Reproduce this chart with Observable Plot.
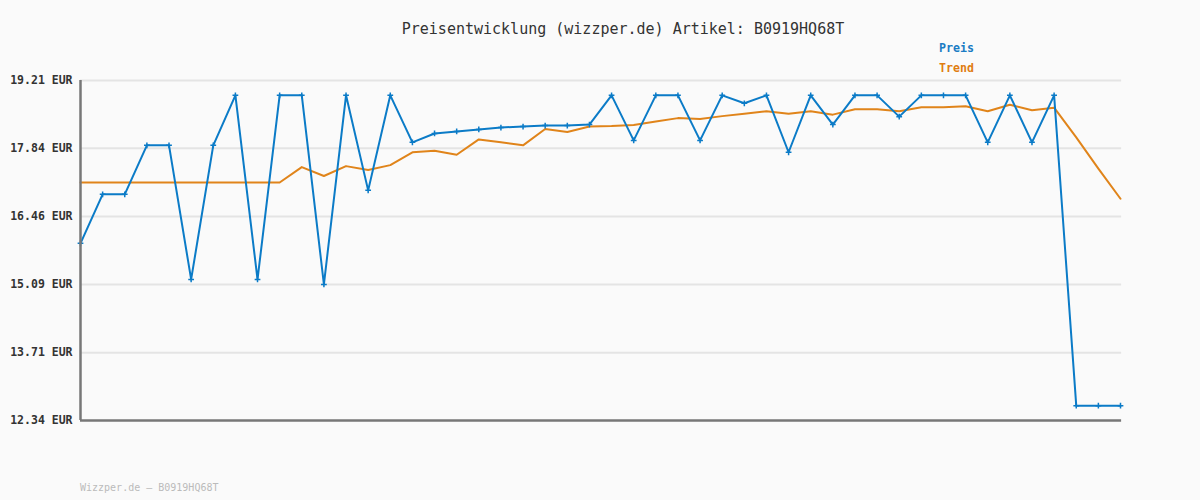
<!DOCTYPE html>
<html>
<head>
<meta charset="utf-8">
<script src="https://cdn.jsdelivr.net/npm/d3@7"></script>
<script src="https://cdn.jsdelivr.net/npm/@observablehq/plot@0.6"></script>
<style>
  html, body { margin: 0; padding: 0; background: #fafafa; }
  #wrap { position: relative; width: 1200px; height: 500px; }
  .t { position: absolute; font-family: "DejaVu Sans Mono", monospace; white-space: nowrap; }
  #title { left: 0; width: 1246px; text-align: center; top: 20px; font-size: 15px; color: #333; }
  #lp { left: 939px; top: 41px; font-size: 11.6px; font-weight: bold; color: #1a7cc4; }
  #lt { left: 939px; top: 61px; font-size: 11.6px; font-weight: bold; color: #e07d10; }
  #foot { left: 80px; top: 482px; font-size: 10px; color: #bbbbbb; }
  svg { position: absolute; left: 0; top: 0; }
</style>
</head>
<body>
<div id="wrap">
  <div id="chart"></div>
  <div class="t" id="title">Preisentwicklung (wizzper.de) Artikel: B0919HQ68T</div>
  <div class="t" id="lp">Preis</div>
  <div class="t" id="lt">Trend</div>
  <div class="t" id="foot">Wizzper.de – B0919HQ68T</div>
</div>
<script>
const preis = [15.92, 16.91, 16.91, 17.90, 17.90, 15.19, 17.90, 18.91, 15.19, 18.91,
  18.91, 15.09, 18.91, 16.99, 18.91, 17.96, 18.14, 18.18, 18.22, 18.26,
  18.28, 18.30, 18.30, 18.32, 18.91, 18.00, 18.91, 18.91, 18.00, 18.91,
  18.75, 18.91, 17.76, 18.91, 18.32, 18.91, 18.91, 18.48, 18.91, 18.91,
  18.91, 17.96, 18.91, 17.96, 18.91, 12.64, 12.64, 12.64];
const trend = [17.15, 17.15, 17.15, 17.15, 17.15, 17.15, 17.15, 17.15, 17.15, 17.15,
  17.46, 17.28, 17.48, 17.40, 17.50, 17.76, 17.79, 17.71, 18.02, 17.96,
  17.90, 18.23, 18.17, 18.28, 18.29, 18.31, 18.38, 18.45, 18.43, 18.49,
  18.54, 18.59, 18.54, 18.59, 18.52, 18.63, 18.63, 18.59, 18.67, 18.67,
  18.69, 18.59, 18.72, 18.61, 18.66, 18.06, 17.43, 16.82];
const yTicks = [12.34, 13.71, 15.09, 16.46, 17.84, 19.21];

const pd = preis.map((v, i) => ({i, v}));
const td = trend.map((v, i) => ({i, v}));

const blue = "#0b7bc7";
const orange = "#e0841a";

const chart = Plot.plot({
  width: 1200,
  height: 500,
  marginLeft: 80,
  marginRight: 80,
  marginTop: 80,
  marginBottom: 80,
  style: { background: "transparent", overflow: "visible" },
  x: { domain: [0, preis.length - 1], axis: null },
  y: { domain: [12.34, 19.21], axis: null },
  marks: [
    Plot.ruleY(yTicks.slice(1), { x1: 0, x2: preis.length - 1 + 0.05, stroke: "#e4e4e4", strokeWidth: 2 }),
    Plot.axisY({
      ticks: yTicks,
      tickSize: 0,
      tickPadding: 8,
      tickFormat: d => d.toFixed(2) + " EUR",
      fontFamily: "DejaVu Sans Mono, monospace",
      fontWeight: "bold",
      fontSize: 11.5,
      fill: "#333",
      label: null
    }),
    Plot.line(td, { x: "i", y: "v", stroke: orange, strokeWidth: 2 }),
    Plot.line(pd, { x: "i", y: "v", stroke: blue, strokeWidth: 2 }),
    Plot.dot(pd, { x: "i", y: "v", symbol: "plus", r: 2, fill: blue, stroke: blue, strokeWidth: 1.5 }),
    Plot.ruleX([0], { y1: 12.34, y2: 19.21, stroke: "#777", strokeWidth: 2.5 }),
    Plot.ruleY([12.34], { x1: 0, x2: preis.length - 1 + 0.05, stroke: "#777", strokeWidth: 2.5 })
  ]
});
document.getElementById("chart").appendChild(chart);
</script>
</body>
</html>
